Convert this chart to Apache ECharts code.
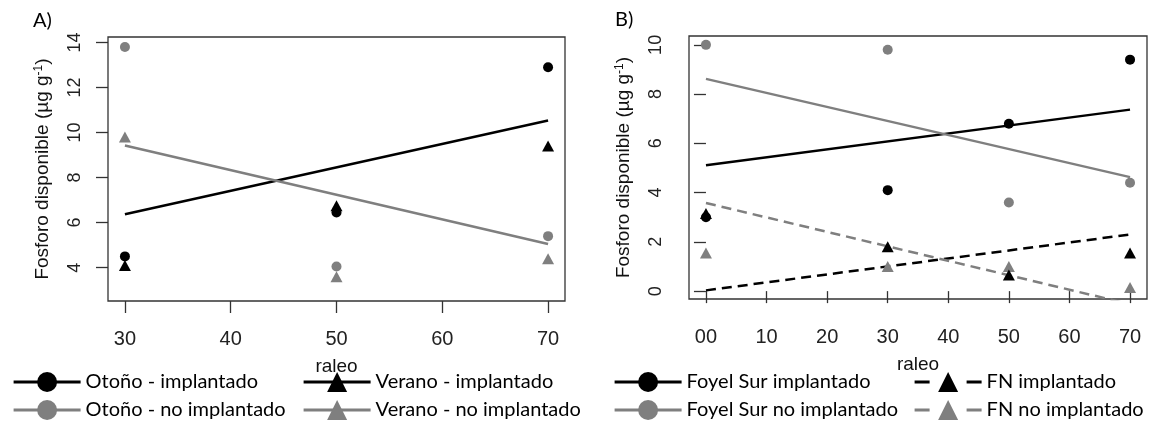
<!DOCTYPE html>
<html><head><meta charset="utf-8">
<script src="https://cdn.jsdelivr.net/npm/echarts@6/dist/echarts.min.js"></script>
<style>html,body{margin:0;padding:0;background:#fff}#c{width:1151px;height:423px}</style>
</head><body><div id="c"></div>
<script>
// ---------- data ----------
const xTicksA = [30, 40, 50, 60, 70];
const yTicksA = [4, 6, 8, 10, 12, 14];
const xTicksB = [0, 10, 20, 30, 40, 50, 60, 70];
const xTickLabelsB = ['00', '10', '20', '30', '40', '50', '60', '70'];
const yTicksB = [0, 2, 4, 6, 8, 10];

const raleoA = [30, 50, 70];
const otonoImpl = [4.5, 6.45, 12.9];
const otonoNoImpl = [13.8, 4.05, 5.4];
const veranoImpl = [4.1, 6.75, 9.4];
const veranoNoImpl = [9.8, 3.6, 4.4];
const fitXA = [30, 70];
const fitAImpl = [6.37, 10.53];
const fitANoImpl = [9.42, 5.05];

const raleoB = [0, 30, 50, 70];
const foyelImpl = [3.0, 4.1, 6.8, 9.4];
const foyelNoImpl = [10.0, 9.8, 3.6, 4.4];
const fnImpl = [3.15, 1.8, 0.65, 1.55];
const fnNoImpl = [1.55, 1.0, 1.0, 0.15];
const fitXB = [0, 70];
const fitBFoyelImpl = [5.11, 7.37];
const fitBFoyelNoImpl = [8.62, 4.63];
const fitBFnImpl = [0.03, 2.30];
const fitBFnNoImpl = [3.58, -0.53];

const namesA = ['Otoño - implantado', 'Verano - implantado', 'Otoño - no implantado', 'Verano - no implantado'];
const namesB = ['Foyel Sur implantado', 'FN implantado', 'Foyel Sur no implantado', 'FN no implantado'];

// ---------- style ----------
const BLACK = '#000000';
const GRAY = '#7f7f7f';
const AX = '#333333';
const AXFONT = 'Liberation Sans, Arial, sans-serif';
const LGFONT = 'Lato, Carlito, sans-serif';

const zip = (xs, ys) => xs.map((x, i) => [x, ys[i]]);

function pointSeries(name, xs, ys, color, symbol, xi) {
  return {
    type: 'line', name, xAxisIndex: xi, yAxisIndex: xi,
    data: zip(xs, ys), symbol,
    symbolSize: symbol === 'triangle' ? [12, 11] : 10,
    showSymbol: true,
    lineStyle: { color, opacity: 0, width: 3 },
    itemStyle: { color },
    z: 3, silent: true
  };
}
function fitSeries(xs, ys, color, dashed, xi) {
  return {
    type: 'line', xAxisIndex: xi, yAxisIndex: xi,
    data: zip(xs, ys), symbol: 'none', clip: true,
    lineStyle: { color, width: 2.5, type: dashed ? [10, 6] : 'solid' },
    z: 2, silent: true
  };
}
function xAxis(gi, min, max, ticks, fmt) {
  return {
    type: 'value', gridIndex: gi, min, max,
    axisLine: { show: false },
    axisTick: { show: true, inside: false, length: 12, customValues: ticks, lineStyle: { color: AX, width: 1.3 } },
    axisLabel: { customValues: ticks, formatter: fmt, margin: 28, fontFamily: AXFONT, fontSize: 20, color: '#222' },
    splitLine: { show: false },
    name: 'raleo', nameLocation: 'middle', nameGap: 56,
    nameTextStyle: { fontFamily: AXFONT, fontSize: 19, color: '#111' }
  };
}
function yAxis(gi, min, max, ticks) {
  return {
    type: 'value', gridIndex: gi, min, max,
    axisLine: { show: false },
    axisTick: { show: true, inside: false, length: 12, customValues: ticks, lineStyle: { color: AX, width: 1.3 } },
    axisLabel: { customValues: ticks, rotate: 90, margin: 24, fontFamily: AXFONT, fontSize: 18, color: '#222' },
    splitLine: { show: false },
    name: 'Fosforo disponible (µg g{sup|-1})', nameLocation: 'middle', nameGap: 55,
    nameTextStyle: { fontFamily: AXFONT, fontSize: 19, color: '#111',
      rich: { sup: { fontFamily: AXFONT, fontSize: 12, verticalAlign: 'top', padding: [0, 0, 8, 0], color: '#111' } } }
  };
}
function legendItem(name, left, top, dashed) {
  return {
    show: true, left, top, orient: 'horizontal', padding: 0, itemGap: 0,
    itemWidth: 67, itemHeight: 25, selectedMode: false,
    data: [dashed ? { name, lineStyle: { type: [15, 37] } } : name],
    lineStyle: { opacity: 1, width: 3.2 },
    textStyle: { fontFamily: LGFONT, fontSize: 20, color: '#000' }
  };
}

const option = {
  animation: false,
  backgroundColor: '#ffffff',
  title: [
    { text: 'A)', left: 33, top: 11, padding: 0, textStyle: { fontFamily: LGFONT, fontSize: 20, fontWeight: 'normal', color: '#000' } },
    { text: 'B)', left: 615, top: 10, padding: 0, textStyle: { fontFamily: LGFONT, fontSize: 20, fontWeight: 'normal', color: '#000' } }
  ],
  grid: [
    { left: 108, top: 37, width: 457, height: 264, show: true, borderColor: AX, borderWidth: 1.3, backgroundColor: 'transparent' },
    { left: 689, top: 36, width: 458, height: 263, show: true, borderColor: AX, borderWidth: 1.3, backgroundColor: 'transparent' }
  ],
  xAxis: [
    xAxis(0, 28.4, 71.6, xTicksA, v => String(v)),
    xAxis(1, -2.8, 72.8, xTicksB, v => xTickLabelsB[xTicksB.indexOf(v)])
  ],
  yAxis: [
    yAxis(0, 2.52, 14.24, yTicksA),
    yAxis(1, -0.32, 10.36, yTicksB)
  ],
  legend: [
    legendItem(namesA[0], 12, 372, false),
    legendItem(namesA[1], 302, 372, false),
    legendItem(namesA[2], 12, 400, false),
    legendItem(namesA[3], 302, 400, false),
    legendItem(namesB[0], 613, 372, false),
    legendItem(namesB[1], 913, 372, true),
    legendItem(namesB[2], 613, 400, false),
    legendItem(namesB[3], 913, 400, true)
  ],
  series: [
    fitSeries(fitXA, fitAImpl, BLACK, false, 0),
    fitSeries(fitXA, fitANoImpl, GRAY, false, 0),
    pointSeries(namesA[2], raleoA, otonoNoImpl, GRAY, 'circle', 0),
    pointSeries(namesA[3], raleoA, veranoNoImpl, GRAY, 'triangle', 0),
    pointSeries(namesA[1], raleoA, veranoImpl, BLACK, 'triangle', 0),
    pointSeries(namesA[0], raleoA, otonoImpl, BLACK, 'circle', 0),

    fitSeries(fitXB, fitBFoyelImpl, BLACK, false, 1),
    fitSeries(fitXB, fitBFoyelNoImpl, GRAY, false, 1),
    fitSeries(fitXB, fitBFnImpl, BLACK, true, 1),
    fitSeries(fitXB, fitBFnNoImpl, GRAY, true, 1),
    pointSeries(namesB[2], raleoB, foyelNoImpl, GRAY, 'circle', 1),
    pointSeries(namesB[3], raleoB, fnNoImpl, GRAY, 'triangle', 1),
    pointSeries(namesB[1], raleoB, fnImpl, BLACK, 'triangle', 1),
    pointSeries(namesB[0], raleoB, foyelImpl, BLACK, 'circle', 1)
  ]
};

const chart = echarts.init(document.getElementById('c'), null, { renderer: 'canvas' });
chart.setOption(option);
</script>
</body></html>
